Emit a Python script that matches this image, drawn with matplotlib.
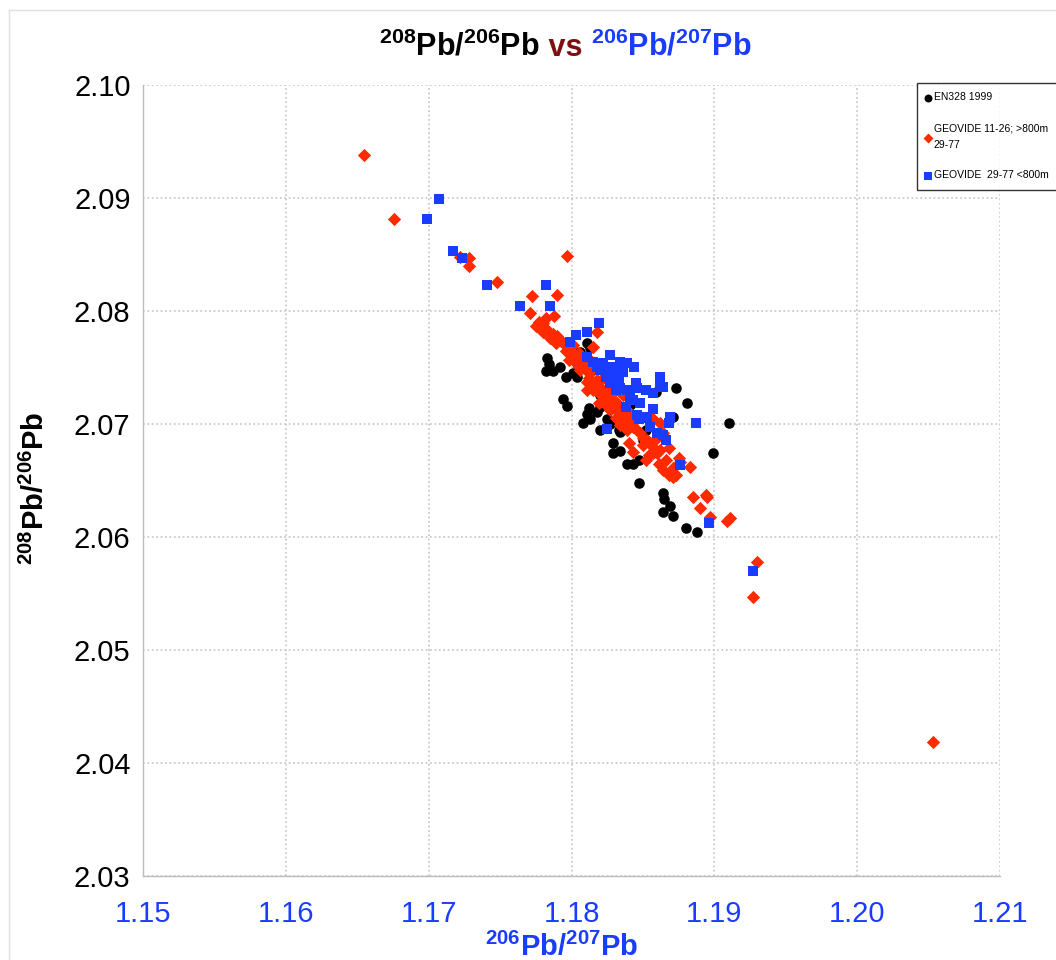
import matplotlib
matplotlib.use('Agg')
import matplotlib.pyplot as plt
from matplotlib.lines import Line2D

plt.rcParams['font.family'] = ['Liberation Sans', 'DejaVu Sans']
plt.rcParams['mathtext.fontset'] = 'custom'
plt.rcParams['mathtext.rm'] = 'Liberation Sans'
plt.rcParams['mathtext.bf'] = 'Liberation Sans:bold'

BLUE = '#1a3cff'
RED = '#ff2a00'
DARKRED = '#7a1212'

# EN328 1999
en328_x = [1.1783, 1.1784, 1.1782, 1.1787, 1.1792, 1.1796, 1.1801, 1.1804, 1.1811, 1.1813,
           1.1806, 1.1794, 1.1797, 1.1812, 1.1811, 1.1818, 1.1820, 1.1808, 1.1813, 1.1820,
           1.1825, 1.1827, 1.1833, 1.1829, 1.1829, 1.1834, 1.1839, 1.1843, 1.1847, 1.1850,
           1.1859, 1.1873, 1.1881, 1.1871, 1.1899, 1.1910, 1.1864, 1.1865, 1.1869, 1.1864,
           1.1871, 1.1880, 1.1888, 1.1836, 1.1834, 1.1847, 1.1817, 1.1841, 1.1852, 1.1820]
en328_y = [2.0758, 2.0753, 2.0747, 2.0747, 2.0750, 2.0742, 2.0745, 2.0742, 2.0772, 2.0767,
           2.0764, 2.0722, 2.0716, 2.0714, 2.0709, 2.0711, 2.0715, 2.0701, 2.0704, 2.0695,
           2.0704, 2.0700, 2.0695, 2.0683, 2.0674, 2.0676, 2.0665, 2.0665, 2.0648, 2.0686,
           2.0728, 2.0732, 2.0719, 2.0706, 2.0674, 2.0701, 2.0639, 2.0634, 2.0627, 2.0622,
           2.0619, 2.0608, 2.0604, 2.0711, 2.0693, 2.0668, 2.0735, 2.0717, 2.0695, 2.0726]

# GEOVIDE 11-26; >800m 29-77
deep_x = [1.1655, 1.1676, 1.2053, 1.1930, 1.1927, 1.1722, 1.1728, 1.1728, 1.1748, 1.1797,
          1.1772, 1.1790, 1.1771, 1.1788, 1.1777, 1.1780, 1.1778, 1.1782, 1.1780, 1.1784,
          1.1787, 1.1790, 1.1789, 1.1794, 1.1818, 1.1815, 1.1799, 1.1801, 1.1805, 1.1798,
          1.1803, 1.1805, 1.1808, 1.1811, 1.1810, 1.1813, 1.1811, 1.1815, 1.1818, 1.1820,
          1.1815, 1.1819, 1.1822, 1.1825, 1.1829, 1.1832, 1.1834, 1.1839, 1.1838, 1.1836,
          1.1841, 1.1843, 1.1846, 1.1848, 1.1850, 1.1853, 1.1855, 1.1857, 1.1857, 1.1843,
          1.1860, 1.1864, 1.1857, 1.1862, 1.1868, 1.1875, 1.1866, 1.1864, 1.1868, 1.1871,
          1.1883, 1.1885, 1.1894, 1.1895, 1.1890, 1.1897, 1.1909, 1.1911, 1.1860, 1.1852,
          1.1841, 1.1839, 1.1833, 1.1829, 1.1827, 1.1822, 1.1811, 1.1806, 1.1808, 1.1826,
          1.1831, 1.1836, 1.1840, 1.1871, 1.1782, 1.1775, 1.1785, 1.1792, 1.1796, 1.1803,
          1.1813, 1.1817, 1.1822, 1.1827, 1.1824, 1.1831, 1.1834, 1.1845, 1.1850, 1.1854,
          1.1862, 1.1852, 1.1861, 1.1873, 1.1876, 1.1819, 1.1812, 1.1801]
deep_y = [2.0938, 2.0881, 2.0419, 2.0578, 2.0547, 2.0848, 2.0847, 2.0840, 2.0826, 2.0849,
          2.0813, 2.0814, 2.0798, 2.0796, 2.0790, 2.0789, 2.0785, 2.0784, 2.0781, 2.0781,
          2.0780, 2.0778, 2.0772, 2.0772, 2.0781, 2.0768, 2.0765, 2.0761, 2.0763, 2.0757,
          2.0754, 2.0750, 2.0752, 2.0755, 2.0748, 2.0745, 2.0737, 2.0736, 2.0739, 2.0733,
          2.0730, 2.0727, 2.0728, 2.0724, 2.0721, 2.0719, 2.0715, 2.0712, 2.0708, 2.0704,
          2.0701, 2.0697, 2.0695, 2.0692, 2.0688, 2.0686, 2.0683, 2.0680, 2.0674, 2.0675,
          2.0688, 2.0692, 2.0704, 2.0701, 2.0679, 2.0670, 2.0668, 2.0659, 2.0655, 2.0661,
          2.0662, 2.0635, 2.0637, 2.0635, 2.0626, 2.0618, 2.0614, 2.0617, 2.0674, 2.0684,
          2.0706, 2.0695, 2.0711, 2.0715, 2.0712, 2.0721, 2.0730, 2.0748, 2.0755, 2.0739,
          2.0730, 2.0726, 2.0683, 2.0653, 2.0794, 2.0787, 2.0776, 2.0774, 2.0765, 2.0758,
          2.0757, 2.0750, 2.0741, 2.0732, 2.0717, 2.0705, 2.0699, 2.0704, 2.0681, 2.0673,
          2.0677, 2.0668, 2.0665, 2.0655, 2.0666, 2.0719, 2.0741, 2.0770]

# GEOVIDE 29-77 <800m
shallow_x = [1.1707, 1.1699, 1.1717, 1.1723, 1.1741, 1.1782, 1.1764, 1.1785, 1.1819, 1.1803,
             1.1811, 1.1799, 1.1827, 1.1834, 1.1839, 1.1844, 1.1811, 1.1815, 1.1822, 1.1820,
             1.1825, 1.1829, 1.1824, 1.1829, 1.1833, 1.1834, 1.1839, 1.1845, 1.1846, 1.1852,
             1.1862, 1.1864, 1.1857, 1.1843, 1.1848, 1.1857, 1.1846, 1.1853, 1.1847, 1.1869,
             1.1868, 1.1855, 1.1860, 1.1864, 1.1866, 1.1876, 1.1887, 1.1825, 1.1896, 1.1927,
             1.1829, 1.1818, 1.1836, 1.1827, 1.1831, 1.1836, 1.1841, 1.1838, 1.1852, 1.1862]
shallow_y = [2.0899, 2.0881, 2.0853, 2.0847, 2.0823, 2.0823, 2.0804, 2.0804, 2.0789, 2.0779,
             2.0781, 2.0773, 2.0761, 2.0755, 2.0754, 2.0750, 2.0759, 2.0755, 2.0754, 2.0748,
             2.0746, 2.0743, 2.0742, 2.0739, 2.0737, 2.0732, 2.0730, 2.0736, 2.0732, 2.0730,
             2.0742, 2.0733, 2.0727, 2.0721, 2.0719, 2.0713, 2.0708, 2.0705, 2.0704, 2.0706,
             2.0701, 2.0697, 2.0692, 2.0690, 2.0686, 2.0664, 2.0701, 2.0696, 2.0612, 2.0570,
             2.0750, 2.0750, 2.0748, 2.0736, 2.0730, 2.0746, 2.0724, 2.0715, 2.0706, 2.0737]

x_ticks = [1.15, 1.16, 1.17, 1.18, 1.19, 1.20, 1.21]
y_ticks = [2.03, 2.04, 2.05, 2.06, 2.07, 2.08, 2.09, 2.10]

fig = plt.figure(figsize=(10.56, 9.6), dpi=100)
ax = fig.add_axes([143 / 1056, 84 / 960, 857 / 1056, 791 / 960])

ax.scatter(en328_x, en328_y, s=58, marker='o', color='black', linewidths=0, zorder=3,
           label='EN328 1999')
ax.scatter(deep_x, deep_y, s=46, marker='D', color=RED, linewidths=0, zorder=4,
           label='GEOVIDE 11-26; >800m\n29-77')
ax.scatter(shallow_x, shallow_y, s=50, marker='s', color=BLUE, linewidths=0, zorder=5,
           label='GEOVIDE  29-77 <800m')

ax.set_xlim(1.15, 1.21)
ax.set_ylim(2.03, 2.10)
ax.set_xticks(x_ticks)
ax.set_yticks(y_ticks)
ax.set_xticklabels([f'{v:.2f}' for v in x_ticks])
ax.set_yticklabels([f'{v:.2f}' for v in y_ticks])
ax.tick_params(axis='x', length=0, pad=17, labelsize=21, labelcolor=BLUE)
ax.tick_params(axis='y', length=0, pad=9, labelsize=21, labelcolor='black')

ax.grid(True, color='#c4c4c4', linestyle=':', linewidth=1.2, zorder=0)
ax.set_axisbelow(True)
for side in ['top', 'right']:
    ax.spines[side].set_visible(False)
for side in ['left', 'bottom']:
    ax.spines[side].set_color('#bdbdbd')
    ax.spines[side].set_linewidth(1.0)

lbl_y = r'$^{\mathbf{208}}$Pb/$^{\mathbf{206}}$Pb'
lbl_x = r'$^{\mathbf{206}}$Pb/$^{\mathbf{207}}$Pb'

# title in three colours
t1 = fig.text(379 / 1056, 1 - 56 / 960, lbl_y, fontsize=22, fontweight='bold',
              color='black', ha='left', va='baseline')
t2 = ax.annotate(' vs ', xy=(1, 0), xycoords=t1, ha='left', va='bottom',
                 fontsize=22, fontweight='bold', color=DARKRED)
ax.annotate(lbl_x, xy=(1, 0), xycoords=t2, ha='left', va='bottom',
            fontsize=22, fontweight='bold', color=BLUE)

fig.text(562 / 1056, 1 - 956 / 960, lbl_x, fontsize=21, fontweight='bold',
         color=BLUE, ha='center', va='baseline')
fig.text(35 / 1056, 1 - 488 / 960, lbl_y, fontsize=21, fontweight='bold',
         color='black', ha='center', va='center', rotation=90)

leg = fig.legend(loc='upper left', bbox_to_anchor=(917 / 1056, 1 - 83 / 960),
                 frameon=True, fancybox=False, fontsize=7.5, markerscale=0.75,
                 handlelength=0.4, handletextpad=0.3, labelspacing=2.0,
                 borderpad=0.9, borderaxespad=0)
for txt in leg.get_texts():
    txt.set_linespacing(1.8)
leg.get_frame().set_edgecolor('black')
leg.get_frame().set_linewidth(1.0)

# faint outer frame of the chart area
fig.add_artist(Line2D([9 / 1056, 1], [1 - 10 / 960, 1 - 10 / 960], color='#e0e0e0', lw=1))
fig.add_artist(Line2D([9 / 1056, 9 / 1056], [0, 1 - 10 / 960], color='#e0e0e0', lw=1))

fig.savefig('out.png', dpi=100)
plt.close(fig)
